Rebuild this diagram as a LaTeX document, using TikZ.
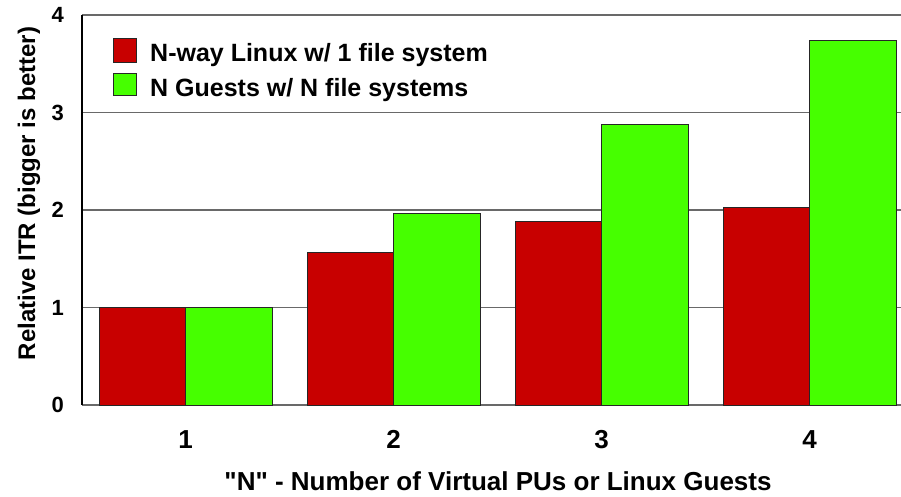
\documentclass[tikz,border=0pt]{standalone}
\usepackage{fontspec}
\setmainfont{Liberation Sans}
\definecolor{barred}{RGB}{200,0,0}
\definecolor{bargreen}{RGB}{70,255,0}
\definecolor{gridgray}{RGB}{105,105,105}
% straight double quote, set as a glyph so the TeX mapping leaves it alone
\newcommand\straightquote{\XeTeXglyph\XeTeXcharglyph"22\relax}
\begin{document}
\begin{tikzpicture}[x=1pt,y=-1pt,
  gridline/.style={draw=gridgray,line width=1.3pt},
  barbox/.style={draw=black!85,line width=1pt},
  ytick/.style={font=\bfseries\fontsize{22}{26}\selectfont,inner sep=0pt,anchor=east},
  xtick/.style={font=\bfseries\fontsize{26}{30}\selectfont,inner sep=0pt,anchor=base},
  legtext/.style={font=\bfseries\fontsize{25}{29}\selectfont,inner sep=0pt,anchor=base west},
  axtitle/.style={font=\bfseries\fontsize{24}{28}\selectfont,inner sep=0pt,anchor=base}]
\useasboundingbox[fill=white] (0,0) rectangle (901,497);

% horizontal grid lines and the value axis
\foreach \v in {0,1,2,3,4}
  \draw[gridline] (82,{405-97.5*\v}) -- (901,{405-97.5*\v});

% bars: index / red value / green value
\foreach \i/\r/\g in {0/1.0/1.0, 1/1.562/1.959, 2/1.884/2.879, 3/2.028/3.741} {
  \pgfmathsetmacro\c{185.7+208*\i}
  \draw[barbox,fill=barred] ({\c-86.3},405) rectangle (\c,{405-97.5*\r});
  \draw[barbox,fill=bargreen] (\c,405) rectangle ({\c+86.3},{405-97.5*\g});
}

% left axis
\draw[black,line width=1.3pt] (82,15) -- (82,405);

% y tick labels
\foreach \v in {0,1,2,3,4}
  \node[ytick] (ytick\v) at (64,{405-97.5*\v}) {\v};

% x tick labels
\foreach \i in {1,2,3,4}
  \node[xtick] (xtick\i) at ({185.7+208*(\i-1)},448.3) {\i};

% axis titles
\node[axtitle,font=\bfseries\fontsize{26}{30}\selectfont] (xtitle) at (498,490) {\straightquote N\straightquote{} - Number of Virtual PUs or Linux Guests};
\node[axtitle,rotate=90] (ytitle) at (35,193.5) {Relative ITR (bigger is better)};

% legend
\draw[barbox,fill=barred] (113.3,39) rectangle (136,62.7);
\draw[barbox,fill=bargreen] (113.3,73.3) rectangle (136,96);
\node[legtext] (leg1) at (150,61.7) {N-way Linux w/ 1 file system};
\node[legtext] (leg2) at (150,96.7) {N Guests w/ N file systems};
\end{tikzpicture}
\end{document}
